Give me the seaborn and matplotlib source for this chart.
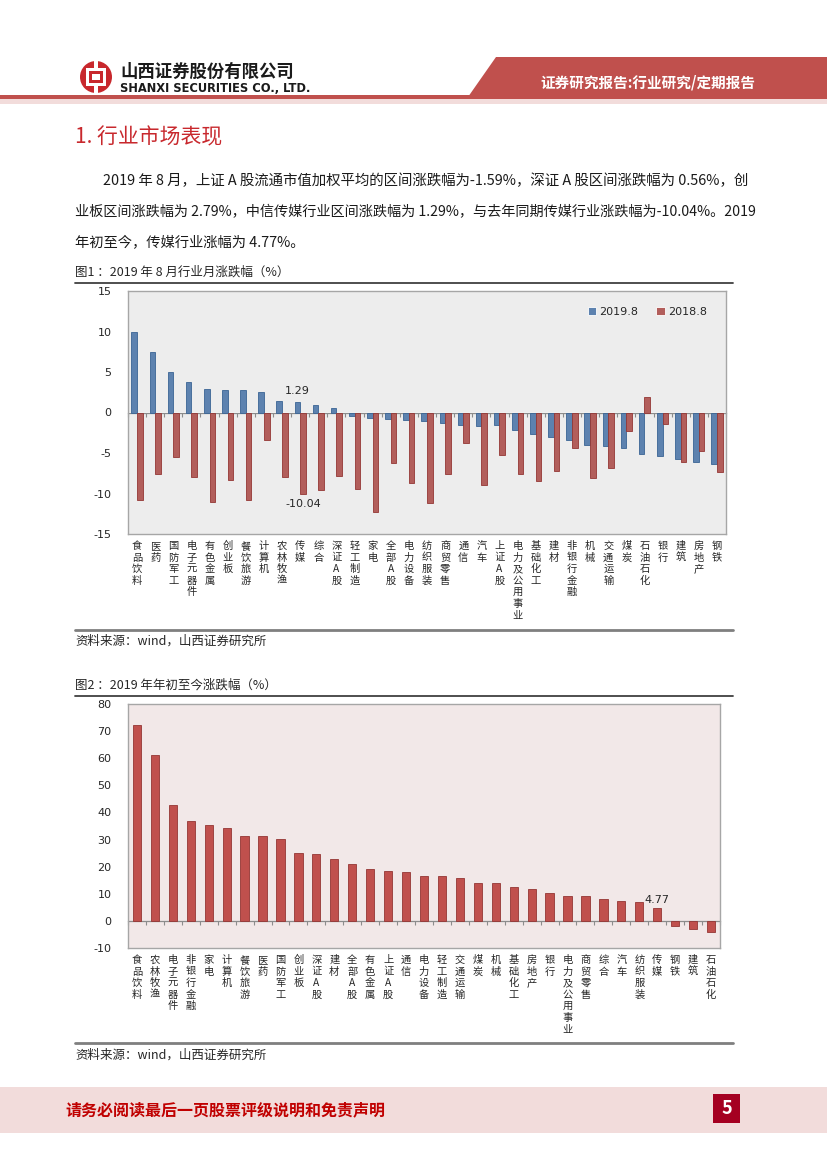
import numpy as np
import pandas as pd
import matplotlib
matplotlib.use("Agg")
import matplotlib.pyplot as plt
import seaborn as sns
from matplotlib.patches import Rectangle, Polygon, Circle

sns.set_theme(style="white")
plt.rcParams["font.family"] = ["Noto Sans CJK SC", "DejaVu Sans"]
plt.rcParams["axes.unicode_minus"] = False

# ---------------- data ----------------
industries_m = ["食品饮料", "医药", "国防军工", "电子元器件", "有色金属", "创业板", "餐饮旅游",
                "计算机", "农林牧渔", "传媒", "综合", "深证A股", "轻工制造", "家电", "全部A股",
                "电力设备", "纺织服装", "商贸零售", "通信", "汽车", "上证A股", "电力及公用事业",
                "基础化工", "建材", "非银行金融", "机械", "交通运输", "煤炭", "石油石化", "银行",
                "建筑", "房地产", "钢铁"]
chg_2019_8 = [9.97, 7.42, 4.94, 3.71, 2.93, 2.79, 2.72, 2.51, 1.48, 1.29, 0.87, 0.56, -0.49,
              -0.74, -0.78, -0.93, -0.99, -1.32, -1.52, -1.65, -1.59, -2.18, -2.64, -3.05,
              -3.38, -4.04, -4.16, -4.33, -5.11, -5.36, -5.73, -6.10, -6.30]
chg_2018_8 = [-10.80, -7.62, -5.48, -7.95, -11.08, -8.32, -10.84, -3.34, -7.95, -10.04, -9.56,
              -7.87, -9.48, -12.28, -6.26, -8.65, -11.17, -7.58, -3.75, -8.90, -5.19, -7.58,
              -8.45, -7.21, -4.33, -8.03, -6.84, -2.27, 1.94, -1.44, -6.14, -4.70, -7.33]
series_names = ["2019.8", "2018.8"]

industries_ytd = ["食品饮料", "农林牧渔", "电子元器件", "非银行金融", "家电", "计算机", "餐饮旅游",
                  "医药", "国防军工", "创业板", "深证A股", "建材", "全部A股", "有色金属", "上证A股",
                  "通信", "电力设备", "轻工制造", "交通运输", "煤炭", "机械", "基础化工", "房地产",
                  "银行", "电力及公用事业", "商贸零售", "综合", "汽车", "纺织服装", "传媒", "钢铁",
                  "建筑", "石油石化"]
chg_ytd = [72.2, 61.3, 42.7, 36.7, 35.3, 34.2, 31.4, 31.3, 30.2, 25.1, 24.6, 22.9, 20.8, 19.2,
           18.5, 18.1, 16.5, 16.5, 15.9, 13.9, 13.8, 12.4, 11.7, 10.2, 9.2, 9.1, 8.2, 7.4, 7.1,
           4.77, -1.85, -3.1, -4.2]

yticks1 = [-15, -10, -5, 0, 5, 10, 15]
yticks2 = [-10, 0, 10, 20, 30, 40, 50, 60, 70, 80]

para_lines = ["2019 年 8 月，上证 A 股流通市值加权平均的区间涨跌幅为-1.59%，深证 A 股区间涨跌幅为 0.56%，创",
              "业板区间涨跌幅为 2.79%，中信传媒行业区间涨跌幅为 1.29%，与去年同期传媒行业涨跌幅为-10.04%。2019",
              "年初至今，传媒行业涨幅为 4.77%。"]

BLUE, RED = "#4F81BD", "#C0504D"
BLUE_E, RED_E = "#3A6494", "#943634"

# ---------------- page ----------------
W, H = 827, 1169
fig = plt.figure(figsize=(W / 100, H / 100), dpi=100)
fig.patch.set_facecolor("white")
bg = fig.add_axes([0, 0, 1, 1], zorder=0)
bg.set_xlim(0, W)
bg.set_ylim(H, 0)
bg.axis("off")


def box(l, t, r, b):
    return [l / W, 1 - b / H, (r - l) / W, (b - t) / H]


# header
bg.add_patch(Polygon([(496, 57), (W, 57), (W, 97), (468, 97)], closed=True,
                     facecolor="#C0504D", edgecolor="none"))
bg.add_patch(Rectangle((0, 95), W, 4, facecolor="#C0504D", edgecolor="none"))
bg.add_patch(Rectangle((0, 99), W, 5, facecolor="#F2DCDB", edgecolor="none"))
bg.text(648, 82, "证券研究报告:行业研究/定期报告", color="white", fontsize=10.5,
        fontweight="bold", ha="center", va="center")
# logo
bg.add_patch(Circle((96, 77), 16, facecolor="#C8282D", edgecolor="none"))
bg.add_patch(Rectangle((86, 68), 20, 18, facecolor="white", edgecolor="none"))
bg.add_patch(Rectangle((89, 71), 14, 12, facecolor="#C8282D", edgecolor="none"))
bg.add_patch(Rectangle((92, 74), 8, 6, facecolor="white", edgecolor="none"))
bg.add_patch(Rectangle((94, 60), 4, 8, facecolor="white", edgecolor="none"))
bg.add_patch(Rectangle((94, 86), 4, 8, facecolor="white", edgecolor="none"))
bg.text(120, 72, "山西证券股份有限公司", fontsize=12.5, fontweight="bold", ha="left",
        va="center", color="#1A1A1A")
bg.text(120, 89, "SHANXI SECURITIES CO., LTD.", fontsize=8.3, fontweight="bold", ha="left",
        va="center", color="#1A1A1A", family=["DejaVu Sans"])

# section title
bg.text(75, 137, "1. 行业市场表现", fontsize=15, color="#C8282D", ha="left", va="center",
        fontweight="medium")

# paragraph
bg.text(103, 181, para_lines[0], fontsize=10.4, ha="left", va="center", color="#1A1A1A")
bg.text(75, 212, para_lines[1], fontsize=10.2, ha="left", va="center", color="#1A1A1A")
bg.text(75, 242, para_lines[2], fontsize=10.3, ha="left", va="center", color="#1A1A1A")

# captions / rules
bg.text(75, 272, "图1 ：2019 年 8 月行业月涨跌幅（%）", fontsize=9, ha="left", va="center")
bg.plot([75, 733], [283, 283], color="#404040", lw=1.3)
bg.plot([75, 733], [630, 630], color="#7F7F7F", lw=2)
bg.text(75, 641, "资料来源：wind，山西证券研究所", fontsize=9, ha="left", va="center")

bg.text(75, 685, "图2 ：2019 年年初至今涨跌幅（%）", fontsize=9, ha="left", va="center")
bg.plot([75, 733], [696, 696], color="#404040", lw=1.3)
bg.plot([75, 733], [1043, 1043], color="#7F7F7F", lw=2)
bg.text(75, 1055, "资料来源：wind，山西证券研究所", fontsize=9, ha="left", va="center")

# footer
bg.add_patch(Rectangle((0, 1087), W, 46, facecolor="#F2DCDB", edgecolor="none"))
bg.text(65, 1110, "请务必阅读最后一页股票评级说明和免责声明", fontsize=11.5, color="#C00000",
        fontweight="bold", ha="left", va="center")
bg.add_patch(Rectangle((713, 1094), 27, 29, facecolor="#A50021", edgecolor="none"))
bg.text(726.5, 1108.5, "5", fontsize=13, color="white", fontweight="bold", ha="center",
        va="center")


def vertical(lbls):
    return ["\n".join(list(s)) for s in lbls]


def style_axis(ax, face, yt, ylim, n, labels):
    ax.set_facecolor(face)
    for s in ax.spines.values():
        s.set_color("#A6A6A6")
        s.set_linewidth(1)
        s.set_visible(True)
    ax.set_xlim(-0.5, n - 0.5)
    ax.set_ylim(*ylim)
    ax.set_yticks(yt)
    ax.set_yticklabels([str(v) for v in yt], family=["DejaVu Sans"])
    ax.set_xticks(range(n))
    ax.set_xticklabels(vertical(labels), fontsize=7.4, linespacing=1.2, va="top")
    ax.tick_params(axis="x", length=0, pad=5)
    ax.tick_params(axis="y", length=0, pad=12, labelsize=8)
    ax.set_xlabel("")
    ax.set_ylabel("")
    sec = ax.secondary_xaxis(0, transform=ax.transData)
    sec.set_xticks(np.arange(-0.5, n, 1.0))
    sec.tick_params(axis="x", length=3, width=0.8, color="#8C8C8C", direction="out",
                    labelbottom=False)
    sec.spines["bottom"].set_color("#8C8C8C")
    sec.spines["bottom"].set_linewidth(0.9)


# ---------------- chart 1 ----------------
df1 = pd.DataFrame({
    "行业": industries_m * 2,
    "涨跌幅": chg_2019_8 + chg_2018_8,
    "期间": [series_names[0]] * len(industries_m) + [series_names[1]] * len(industries_m),
})
ax1 = fig.add_axes(box(128, 291, 726, 534), zorder=2)
sns.barplot(data=df1, x="行业", y="涨跌幅", hue="期间", hue_order=series_names,
            order=industries_m, palette=[BLUE, RED], width=0.62, gap=0, ax=ax1,
            errorbar=None, linewidth=0.6)
for cont, ec in zip(ax1.containers, [BLUE_E, RED_E]):
    for p in cont:
        p.set_edgecolor(ec)
style_axis(ax1, "#EDEDED", yticks1, (-15, 15), len(industries_m), industries_m)
ax1.legend(ncol=2, loc="upper right", bbox_to_anchor=(0.985, 0.975), frameon=False,
           fontsize=8, handlelength=0.75, handleheight=0.75, handletextpad=0.3,
           columnspacing=1.6, prop={"family": ["DejaVu Sans"], "size": 8})
i_m = industries_m.index("传媒")
ax1.annotate(f"{chg_2019_8[i_m]:.2f}", xy=(i_m - 0.155, chg_2019_8[i_m]), xytext=(0, 4),
             textcoords="offset points", ha="center", va="bottom", fontsize=8,
             family=["DejaVu Sans"])
ax1.annotate(f"{chg_2018_8[i_m]:.2f}", xy=(i_m + 0.155, chg_2018_8[i_m]), xytext=(0, -4),
             textcoords="offset points", ha="center", va="top", fontsize=8,
             family=["DejaVu Sans"])

# ---------------- chart 2 ----------------
df2 = pd.DataFrame({"行业": industries_ytd, "涨跌幅": chg_ytd})
ax2 = fig.add_axes(box(128, 704, 720, 948), zorder=2)
sns.barplot(data=df2, x="行业", y="涨跌幅", order=industries_ytd, color=RED, width=0.46,
            ax=ax2, errorbar=None, linewidth=0.6, edgecolor=RED_E, saturation=1)
style_axis(ax2, "#F2E8E8", yticks2, (-10, 80), len(industries_ytd), industries_ytd)
i_y = industries_ytd.index("传媒")
ax2.annotate(f"{chg_ytd[i_y]:.2f}", xy=(i_y, chg_ytd[i_y]), xytext=(0, 2),
             textcoords="offset points", ha="center", va="bottom", fontsize=8,
             family=["DejaVu Sans"])

fig.savefig("out.png", dpi=100, facecolor="white")
